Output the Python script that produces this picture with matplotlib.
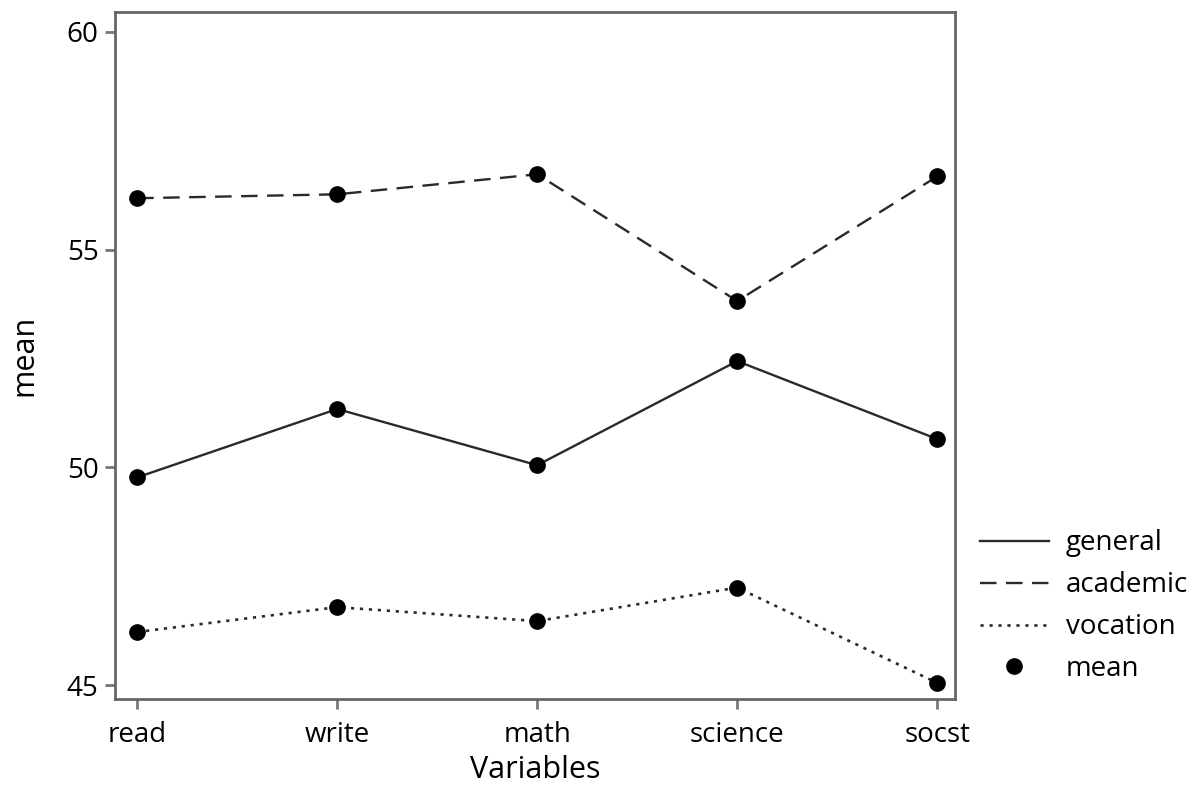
import matplotlib
matplotlib.use("Agg")
import matplotlib.pyplot as plt
from matplotlib.lines import Line2D

plt.rcParams["font.family"] = ["Open Sans", "DejaVu Sans"]

variables = ["read", "write", "math", "science", "socst"]
general = [49.77, 51.34, 50.05, 52.44, 50.65]
academic = [56.18, 56.27, 56.73, 53.82, 56.68]
vocation = [46.22, 46.79, 46.47, 47.24, 45.05]

fig = plt.figure(figsize=(12, 7.89), dpi=100)
ax = fig.add_axes([0.096, 0.114, 0.7, 0.871])

lc = "#2a2a2a"
x = range(len(variables))
ax.plot(x, general, color=lc, lw=1.7, ls="-", marker="o", ms=11, mfc="black", mec="black")
ax.plot(x, academic, color=lc, lw=1.7, ls=(0, (7, 4)), marker="o", ms=11, mfc="black", mec="black")
ax.plot(x, vocation, color=lc, lw=1.9, ls=(0, (1.2, 2.2)), marker="o", ms=11, mfc="black", mec="black")

ax.set_xlim(-0.11, 4.09)
ax.set_ylim(44.68, 60.46)
ax.set_xticks(list(x))
ax.set_xticklabels(variables)
ax.set_yticks([45, 50, 55, 60])
ax.tick_params(axis="both", labelsize=20, color="#777777", length=7, width=2, direction="out")
ax.tick_params(axis="x", pad=9)
ax.tick_params(axis="y", pad=5)
for s in ax.spines.values():
    s.set_color("#666666")
    s.set_linewidth(2)

ax.set_xlabel("Variables", fontsize=22, labelpad=4)
ax.set_ylabel("mean", fontsize=22, labelpad=20)

handles = [
    Line2D([], [], color=lc, lw=1.7, ls="-"),
    Line2D([], [], color=lc, lw=1.7, ls=(0, (7, 4))),
    Line2D([], [], color=lc, lw=1.9, ls=(0, (1.2, 2.2))),
    Line2D([], [], color="black", ls="", marker="o", ms=11),
]
fig.legend(handles, ["general", "academic", "vocation", "mean"], loc="upper left",
           bbox_to_anchor=(0.807, 0.343), frameon=False, fontsize=20,
           handlelength=2.5, handletextpad=0.6, labelspacing=0.5, borderaxespad=0)

fig.savefig("out.png", dpi=100)
